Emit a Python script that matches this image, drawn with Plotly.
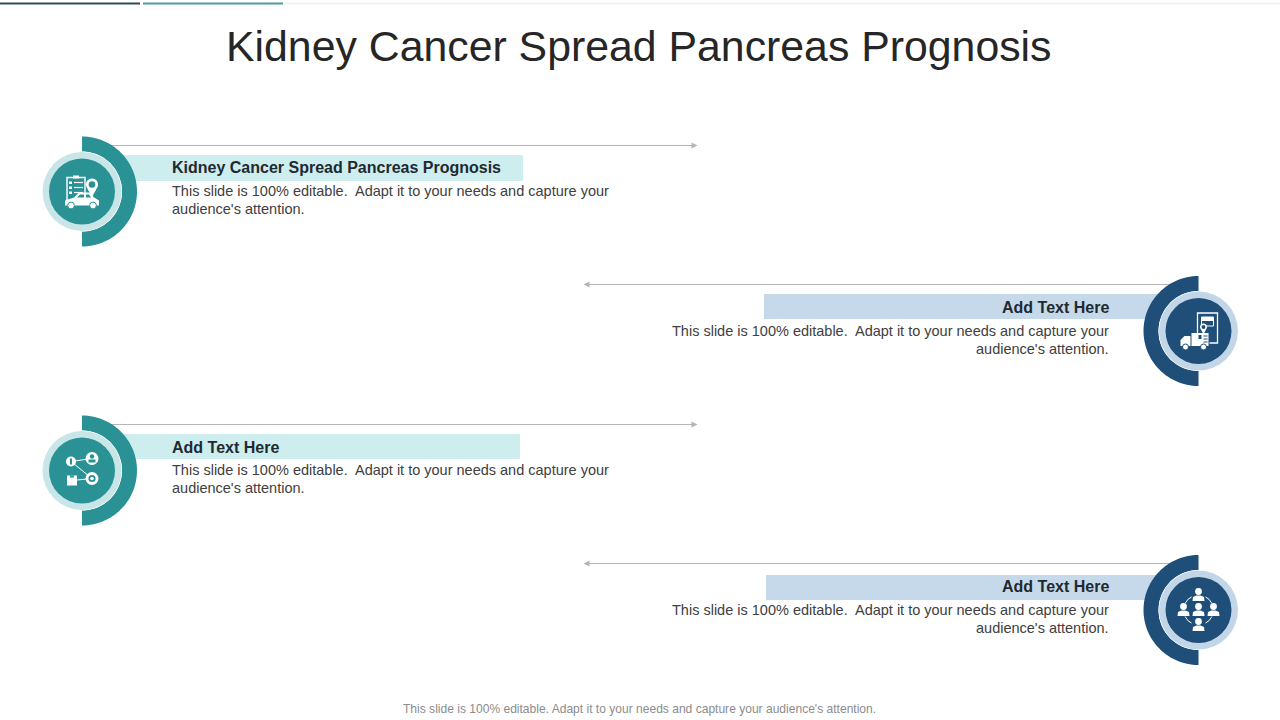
import numpy as np
import plotly.graph_objects as go

TITLE = "Kidney Cancer Spread Pancreas Prognosis"
FOOTER = "This slide is 100% editable. Adapt it to your needs and capture your audience's attention."
HEADINGS = ["Kidney Cancer Spread Pancreas Prognosis", "Add Text Here", "Add Text Here", "Add Text Here"]
BODY_1 = ["This slide is 100% editable.  Adapt it to your needs and capture your",
          "This slide is 100% editable.  Adapt it to your needs and capture your",
          "This slide is 100% editable.  Adapt it to your needs and capture your",
          "This slide is 100% editable.  Adapt it to your needs and capture your"]
BODY_2 = ["audience's attention.", "audience's attention.", "audience's attention.", "audience's attention."]
SIDES = ["left", "right", "left", "right"]
CENTER_Y = [191.5, 331, 470.5, 610]
BAND_TOP = [155, 294, 434, 575]
BAND_BOTTOM = [181, 319, 459, 600]
BAND_EDGE = [523, 764, 520, 766]
LINE_Y = [145.5, 284.5, 424.5, 563.5]
HEAD_Y = [167, 307, 447, 586]
TEXT1_Y = [190.5, 330.5, 469.5, 609.5]
TEXT2_Y = [208.5, 348.5, 487.5, 627.5]

TEAL, TEAL_LIGHT, TEAL_BAND = "#2A9295", "#C8E6E7", "#CDEDEF"
NAVY, NAVY_LIGHT, NAVY_BAND = "#1F4E79", "#C2D6E8", "#C5D9EA"
WHITE = "#FFFFFF"

shapes, ann = [], []


def poly(points, fill=WHITE, line=None, width=0):
    d = "M " + " L ".join(f"{x:.2f},{y:.2f}" for x, y in points) + (" Z" if fill else "")
    shapes.append(dict(type="path", path=d, fillcolor=fill or "rgba(0,0,0,0)",
                       line=dict(color=line or "rgba(0,0,0,0)", width=width), layer="above"))


def rect(x0, y0, x1, y1, fill, line=None, width=0):
    shapes.append(dict(type="rect", x0=x0, y0=y0, x1=x1, y1=y1, fillcolor=fill or "rgba(0,0,0,0)",
                       line=dict(color=line or "rgba(0,0,0,0)", width=width), layer="above"))


def circ(cx, cy, r, fill=WHITE, line=None, width=0):
    shapes.append(dict(type="circle", x0=cx - r, y0=cy - r, x1=cx + r, y1=cy + r,
                       fillcolor=fill or "rgba(0,0,0,0)",
                       line=dict(color=line or "rgba(0,0,0,0)", width=width), layer="above"))


def seg(x0, y0, x1, y1, color=WHITE, width=1):
    shapes.append(dict(type="line", x0=x0, y0=y0, x1=x1, y1=y1,
                       line=dict(color=color, width=width), layer="above"))


def half_ring(cx, cy, ro, ri, color, side):
    t = np.linspace(-np.pi / 2, np.pi / 2, 60)
    s = 1 if side == "left" else -1
    outer = [(cx + s * ro * np.cos(a), cy + ro * np.sin(a)) for a in t]
    inner = [(cx + s * ri * np.cos(a), cy + ri * np.sin(a)) for a in t[::-1]]
    poly(outer + inner, color)


def text(x, y, s, size, color, anchor="left", bold=False):
    ann.append(dict(x=x, y=y, text=f"<b>{s}</b>" if bold else s, showarrow=False, xanchor=anchor,
                    yanchor="middle", xref="x", yref="y",
                    font=dict(family="Liberation Sans", size=size, color=color)))


def pin(cx, cy, r, base):
    t = np.linspace(np.pi * 0.85, np.pi * 2.15, 30)
    pts = [(cx + r * np.cos(a), cy + r * np.sin(a)) for a in t] + [(cx, cy + r * 2.1)]
    poly(pts, WHITE)
    circ(cx, cy, r * 0.55, base)


def icon_route(cx, cy, base):
    rect(cx - 15, cy - 14, cx + 3, cy + 9, None, WHITE, 1.4)
    rect(cx - 9, cy - 16, cx - 3, cy - 13, WHITE)
    for dy in (-9, -4, 1):
        rect(cx - 13, cy + dy - 1, cx - 10, cy + dy + 1.5, WHITE)
        seg(cx - 8, cy + dy, cx + 1, cy + dy, WHITE, 1.2)
    pin(cx + 10, cy - 7, 6, base)
    poly([(cx - 17, cy + 14), (cx - 17, cy + 9), (cx - 8, cy + 6), (cx - 3, cy + 1), (cx + 8, cy + 1),
          (cx + 12, cy + 6), (cx + 17, cy + 9), (cx + 17, cy + 14)], WHITE)
    poly([(cx - 5, cy + 6), (cx - 2, cy + 3), (cx + 2, cy + 3), (cx + 2, cy + 6)], base)
    poly([(cx + 4, cy + 6), (cx + 4, cy + 3), (cx + 7, cy + 3), (cx + 9, cy + 6)], base)
    for dx in (-11, 11):
        circ(cx + dx, cy + 14, 3.4, WHITE, base, 1)


def icon_truck(cx, cy, base):
    rect(cx - 1, cy - 18, cx + 19, cy + 12, None, WHITE, 1.3)
    rect(cx + 3, cy - 14, cx + 15, cy - 5, None, WHITE, 1)
    rect(cx + 3, cy - 14, cx + 15, cy - 10, WHITE)
    rect(cx - 6, cy + 2, cx + 11, cy + 14, base)
    pin(cx + 5, cy - 4, 3.5, base)
    rect(cx - 7, cy + 2, cx + 10, cy + 15, WHITE)
    rect(cx + 0, cy + 4, cx + 3, cy + 8, base)
    for dy in (5, 8, 11):
        seg(cx + 5, cy + dy, cx + 9, cy + dy, base, 1)
    poly([(cx - 18, cy + 15), (cx - 18, cy + 9), (cx - 14, cy + 5), (cx - 8, cy + 5), (cx - 8, cy + 15)], WHITE)
    for dx in (-13, 5):
        circ(cx + dx, cy + 16, 3, WHITE, base, 1)


def icon_network(cx, cy, base):
    for a, b, c, d in [(-11, -9, 10, -12), (-11, -9, 10, 8), (-10, 10, 10, 8)]:
        seg(cx + a, cy + b, cx + c, cy + d, WHITE, 1)
    circ(cx - 11, cy - 9, 5, WHITE)
    rect(cx - 12, cy - 12, cx - 10, cy - 6, base)
    circ(cx + 10, cy - 12, 6.5, WHITE)
    circ(cx + 10, cy - 14, 2.2, base)
    rect(cx + 6.5, cy - 11, cx + 13.5, cy - 8, base)
    rect(cx - 15, cy + 5, cx - 5, cy + 15, WHITE)
    rect(cx - 12, cy + 5, cx - 8, cy + 7, base)
    circ(cx + 10, cy + 8, 6.5, WHITE)
    circ(cx + 10, cy + 8, 3.6, base)
    circ(cx + 10, cy + 8, 1.8, WHITE)


def person(cx, cy):
    circ(cx, cy - 3.5, 3.4, WHITE)
    poly([(cx - 6, cy + 6), (cx - 5.5, cy + 2), (cx - 2, cy + 0.5), (cx + 2, cy + 0.5),
          (cx + 5.5, cy + 2), (cx + 6, cy + 6)], WHITE)


def icon_people(cx, cy, base):
    circ(cx, cy, 15, None, WHITE, 1)
    for dx, dy in [(0, -15), (-15, 0), (0, 0), (15, 0), (0, 15)]:
        rect(cx + dx - 7, cy + dy - 7, cx + dx + 7, cy + dy + 6.5, base)
        person(cx + dx, cy + dy)


ICONS = [icon_route, icon_truck, icon_network, icon_people]

# top progress bars
rect(283, 2.5, 1280, 4.5, "#F2F2F2")
rect(0, 2.5, 140, 4.5, "#2F4A58")
rect(143, 2.5, 283, 4.5, "#4F9AA0")

for i in range(4):
    left = SIDES[i] == "left"
    cy = CENTER_Y[i]
    cx = 82 if left else 1198.5
    dark, light, band = (TEAL, TEAL_LIGHT, TEAL_BAND) if left else (NAVY, NAVY_LIGHT, NAVY_BAND)
    # connector line and arrow
    if left:
        seg(110, LINE_Y[i], 694, LINE_Y[i], "#B4B4B4", 1)
        poly([(697.5, LINE_Y[i]), (691.5, LINE_Y[i] - 3), (691.5, LINE_Y[i] + 3)], "#B4B4B4")
        rect(110, BAND_TOP[i], BAND_EDGE[i], BAND_BOTTOM[i], band)
    else:
        seg(587, LINE_Y[i], 1170, LINE_Y[i], "#B4B4B4", 1)
        poly([(583.5, LINE_Y[i]), (589.5, LINE_Y[i] - 3), (589.5, LINE_Y[i] + 3)], "#B4B4B4")
        rect(BAND_EDGE[i], BAND_TOP[i], 1170, BAND_BOTTOM[i], band)
    half_ring(cx, cy, 55, 40, dark, SIDES[i])
    circ(cx, cy, 40, WHITE)
    circ(cx, cy, 39.5, light)
    circ(cx, cy, 33, dark)
    ICONS[i](cx, cy, dark)
    # text
    tx, anchor = (170, "left") if left else (1111, "right")
    text(tx, HEAD_Y[i], HEADINGS[i], 16, "#1F2A30", anchor, True)
    text(tx, TEXT1_Y[i], BODY_1[i], 14.5, "#404040", anchor)
    text(tx, TEXT2_Y[i], BODY_2[i], 14.5, "#404040", anchor)

text(639, 45.5, TITLE, 42.8, "#262626", "center")
text(639.5, 708.5, FOOTER, 12.05, "#8C8C8C", "center")

fig = go.Figure()
fig.update_layout(
    width=1280, height=720, margin=dict(l=0, r=0, t=0, b=0),
    paper_bgcolor=WHITE, plot_bgcolor=WHITE, showlegend=False,
    xaxis=dict(range=[0, 1280], visible=False, fixedrange=True),
    yaxis=dict(range=[720, 0], visible=False, fixedrange=True),
    shapes=shapes, annotations=ann,
)
fig.write_html("out.html", config=dict(displayModeBar=False),
               post_script="document.body.style.margin='0';document.documentElement.style.overflow='hidden';")
